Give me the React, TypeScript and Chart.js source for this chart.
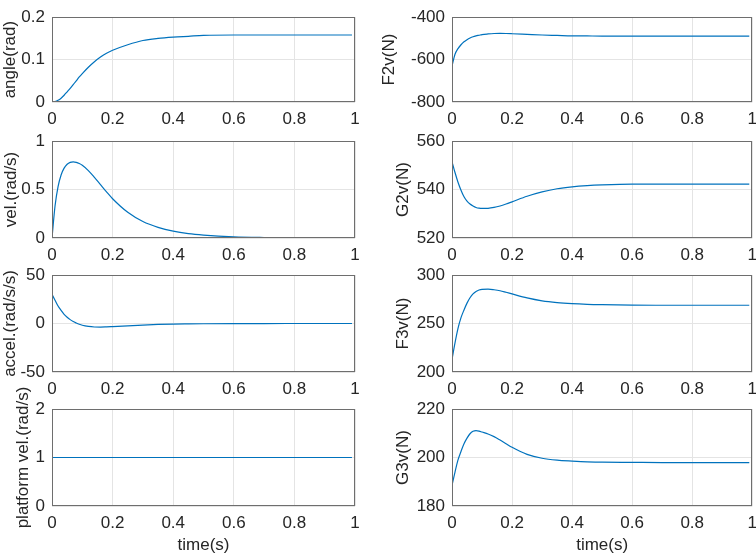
import React, { useEffect, useRef } from "react";
import { Chart, registerables } from "chart.js";
Chart.register(...registerables);

// ---------- data ----------
const TIME = [0, 0.01, 0.02, 0.03, 0.04, 0.05, 0.06, 0.07, 0.08, 0.09, 0.1, 0.12, 0.14, 0.16, 0.18, 0.2, 0.25, 0.3, 0.35, 0.4, 0.45, 0.5, 0.6, 0.7, 0.8, 0.9, 0.99];

const ANGLE = [0, 0.001, 0.004, 0.009, 0.016, 0.024, 0.032, 0.041, 0.05, 0.059, 0.067, 0.082, 0.095, 0.106, 0.115, 0.122, 0.135, 0.145, 0.15, 0.153, 0.155, 0.157, 0.158, 0.158, 0.158, 0.158, 0.158];
const VEL = [0, 0.33, 0.53, 0.65, 0.72, 0.76, 0.78, 0.785, 0.78, 0.768, 0.75, 0.695, 0.625, 0.55, 0.475, 0.405, 0.265, 0.17, 0.11, 0.07, 0.045, 0.03, 0.012, 0.005, 0.002, 0.001, 0];
const ACCEL = [30, 24, 18, 13.5, 9.5, 6.5, 4, 2, 0.5, -0.8, -1.8, -3, -3.6, -3.7, -3.5, -3.2, -2.4, -1.6, -1, -0.6, -0.4, -0.25, -0.1, -0.04, 0, 0, 0];
const PLATFORM_VEL = [1, 1, 1, 1, 1, 1, 1, 1, 1, 1, 1, 1, 1, 1, 1, 1, 1, 1, 1, 1, 1, 1, 1, 1, 1, 1, 1];
const F2V = [-630, -575, -548, -530, -516, -506, -498, -492, -488, -485, -482, -479, -477, -476.5, -477, -478, -481, -484, -486, -488, -488.5, -489, -489, -489, -489, -489, -489];
const G2V = [551.5, 547, 543, 539.7, 537, 535.2, 534, 533.2, 532.6, 532.3, 532.2, 532.25, 532.6, 533.2, 534.0, 534.9, 537.2, 539.0, 540.3, 541.1, 541.6, 541.9, 542.2, 542.2, 542.2, 542.2, 542.2];
const F3V = [213, 230, 245, 256, 264, 271, 276.5, 280.5, 283, 284.5, 285.2, 285.4, 284.8, 283.8, 282.2, 280.5, 276.4, 273.4, 271.6, 270.5, 269.8, 269.4, 268.9, 268.8, 268.8, 268.8, 268.8];
const G3V = [188.5, 194, 199, 202.5, 205.7, 208, 209.8, 210.8, 211.1, 210.9, 210.5, 209.7, 208.6, 207.2, 205.7, 204.2, 201.3, 199.7, 198.9, 198.5, 198.2, 198.1, 198, 197.9, 197.9, 197.9, 197.9];

const X_TICKS = [0, 0.2, 0.4, 0.6, 0.8, 1];
const ANGLE_TICKS = [0, 0.1, 0.2];
const VEL_TICKS = [0, 0.5, 1];
const ACCEL_TICKS = [-50, 0, 50];
const PLATFORM_TICKS = [0, 1, 2];
const F2V_TICKS = [-800, -600, -400];
const G2V_TICKS = [520, 540, 560];
const F3V_TICKS = [200, 250, 300];
const G3V_TICKS = [180, 200, 220];

const X_TITLE = "time(s)";

// ---------- layout ----------
const COL_LEFT = [52, 452];
const COL_RIGHT = [355, 754];
const ROW_TOP = [5, 141, 275, 409];
const PLOT_H = 97;
const X_AXIS_H = 50;
const FONT = "'Liberation Sans', Arial, Helvetica, sans-serif";
const FONT_SIZE = 17;
const TEXT_COLOR = "#262626";

type Spec = {
  label: string;
  values: number[];
  yTicks: number[];
  col: number;
  row: number;
  titleCenter: number;
};

const PANELS: Spec[] = [
  { label: "angle(rad)", values: ANGLE, yTicks: ANGLE_TICKS, col: 0, row: 0, titleCenter: 10 },
  { label: "vel.(rad/s)", values: VEL, yTicks: VEL_TICKS, col: 0, row: 1, titleCenter: 11 },
  { label: "accel.(rad/s/s)", values: ACCEL, yTicks: ACCEL_TICKS, col: 0, row: 2, titleCenter: 10 },
  { label: "platform vel.(rad/s)", values: PLATFORM_VEL, yTicks: PLATFORM_TICKS, col: 0, row: 3, titleCenter: 23 },
  { label: "F2v(N)", values: F2V, yTicks: F2V_TICKS, col: 1, row: 0, titleCenter: 389 },
  { label: "G2v(N)", values: G2V, yTicks: G2V_TICKS, col: 1, row: 1, titleCenter: 403 },
  { label: "F3v(N)", values: F3V, yTicks: F3V_TICKS, col: 1, row: 2, titleCenter: 403 },
  { label: "G3v(N)", values: G3V, yTicks: G3V_TICKS, col: 1, row: 3, titleCenter: 403 },
];

const boxPlugin = {
  id: "matlabBox",
  afterDraw(chart: any) {
    const { ctx, chartArea: a } = chart;
    ctx.save();
    ctx.strokeStyle = "#6e6e6e";
    ctx.lineWidth = 1;
    const l = Math.round(a.left);
    const t = Math.round(a.top);
    const r = Math.round(a.right);
    const b = Math.round(a.bottom);
    ctx.strokeRect(l + 0.5, t + 0.5, r - l - 1, b - t - 1);
    ctx.restore();
  },
};

function Panel({ spec }: { spec: Spec }) {
  const ref = useRef<HTMLCanvasElement>(null);
  const half = (FONT_SIZE * 1.2) / 2;
  const canvasLeft = Math.round(spec.titleCenter - half);
  const axisW = COL_LEFT[spec.col] - canvasLeft;
  const padRight = spec.col === 0 ? 20 : 10;
  const padTop = spec.row === 0 ? 5 : spec.row === 3 ? 90 : 25;
  const plotW = COL_RIGHT[spec.col] - COL_LEFT[spec.col];
  const w = axisW + plotW + padRight;
  const h = padTop + PLOT_H + X_AXIS_H;
  const top = ROW_TOP[spec.row] - padTop;
  const showXTitle = spec.row === 3;

  useEffect(() => {
    const canvas = ref.current!;
    const chart = new Chart(canvas, {
      type: "line",
      data: {
        datasets: [
          {
            data: TIME.map((t, i) => ({ x: t, y: spec.values[i] })),
            borderColor: "#0072BD",
            borderWidth: 1.2,
            pointRadius: 0,
            fill: false,
            cubicInterpolationMode: "monotone",
          },
        ],
      },
      options: {
        animation: false,
        responsive: false,
        devicePixelRatio: 1,
        layout: { autoPadding: false, padding: { left: 0, right: padRight, top: padTop, bottom: 0 } },
        plugins: { legend: { display: false }, tooltip: { enabled: false } },
        events: [],
        scales: {
          x: {
            type: "linear",
            min: 0,
            max: 1,
            afterBuildTicks: (s: any) => {
              s.ticks = X_TICKS.map((v) => ({ value: v }));
            },
            afterFit: (s: any) => {
              s.height = X_AXIS_H;
            },
            grid: { color: "#e4e4e4", lineWidth: 1, drawTicks: false },
            border: { display: false },
            ticks: {
              padding: 7,
              color: TEXT_COLOR,
              font: { family: FONT, size: FONT_SIZE },
              maxRotation: 0,
              autoSkip: false,
              callback: (v: any) => String(v),
            },
            title: {
              display: showXTitle,
              text: X_TITLE,
              color: TEXT_COLOR,
              font: { family: FONT, size: FONT_SIZE },
              padding: 0,
            },
          },
          y: {
            type: "linear",
            min: spec.yTicks[0],
            max: spec.yTicks[spec.yTicks.length - 1],
            afterBuildTicks: (s: any) => {
              s.ticks = spec.yTicks.map((v) => ({ value: v }));
            },
            afterFit: (s: any) => {
              s.width = axisW;
            },
            grid: { color: "#e4e4e4", lineWidth: 1, drawTicks: false },
            border: { display: false },
            ticks: {
              padding: 7,
              color: TEXT_COLOR,
              font: { family: FONT, size: FONT_SIZE },
              autoSkip: false,
              callback: (v: any) => String(v),
            },
            title: {
              display: true,
              text: spec.label,
              color: TEXT_COLOR,
              font: { family: FONT, size: FONT_SIZE },
              padding: 0,
            },
          },
        },
      },
      plugins: [boxPlugin],
    } as any);
    return () => chart.destroy();
  }, []);

  return (
    <canvas
      ref={ref}
      width={w}
      height={h}
      style={{ position: "absolute", left: canvasLeft, top, width: w, height: h }}
    />
  );
}

export default function App() {
  return (
    <div
      style={{
        position: "fixed",
        left: 0,
        top: 0,
        width: 756,
        height: 557,
        overflow: "hidden",
        background: "#ffffff",
      }}
    >
      {PANELS.map((p) => (
        <Panel key={p.label} spec={p} />
      ))}
    </div>
  );
}
